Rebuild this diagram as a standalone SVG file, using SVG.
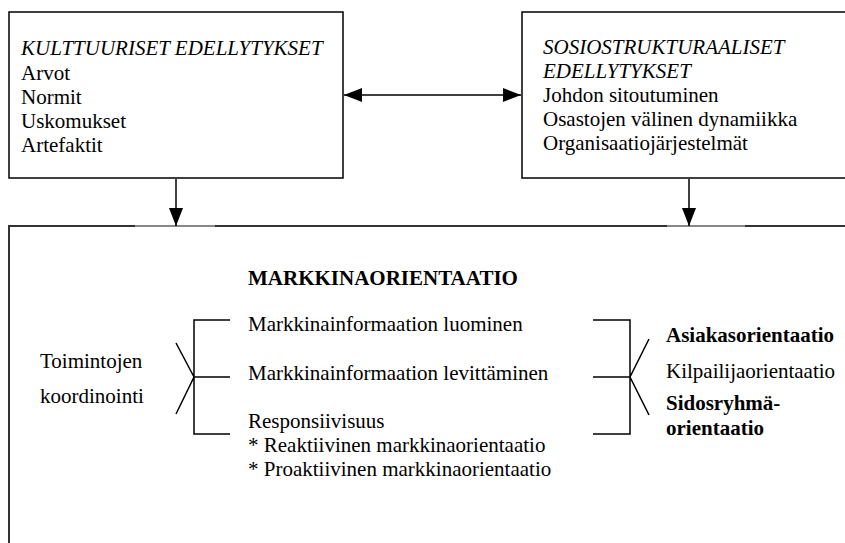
<svg xmlns="http://www.w3.org/2000/svg" width="845" height="543" viewBox="0 0 845 543">
<style>
text{font-family:"Liberation Serif","Times New Roman",serif;font-size:21px;fill:#000}
.it{font-style:italic}
.b{font-weight:bold}
.box{fill:#fff;stroke:#000;stroke-width:1.5}
.big{fill:#fff;stroke:#333;stroke-width:2}
.ln{stroke:#000;stroke-width:1.5;fill:none}
</style>
<defs>
<marker id="ah" viewBox="0 0 18 14" refX="18" refY="7" markerWidth="18" markerHeight="14" markerUnits="userSpaceOnUse" orient="auto-start-reverse">
<path d="M0,0 L18,7 L0,14 Z" fill="#000"/>
</marker>
</defs>
<g id="big-box">
<rect class="big" x="9" y="226" width="850" height="330"/>
<line x1="135" y1="226" x2="215" y2="226" stroke="#888" stroke-width="2"/>
<line x1="667" y1="226" x2="745" y2="226" stroke="#888" stroke-width="2"/>
<text class="b" x="248" y="285">MARKKINAORIENTAATIO</text>
<text x="248" y="331">Markkinainformaation luominen</text>
<text x="248" y="380">Markkinainformaation levittäminen</text>
<text x="248" y="428">Responsiivisuus</text>
<text x="248" y="452">* Reaktiivinen markkinaorientaatio</text>
<text x="248" y="476">* Proaktiivinen markkinaorientaatio</text>
<text x="40" y="368">Toimintojen</text>
<text x="40" y="403">koordinointi</text>
<text class="b" x="666" y="342">Asiakasorientaatio</text>
<text x="666" y="378">Kilpailijaorientaatio</text>
<text class="b" x="666" y="410">Sidosryhmä-</text>
<text class="b" x="666" y="435">orientaatio</text>
<path class="ln" d="M230,320 H194 V434 H230 M194,377 H230 M176,343 L194,377 L176,414"/>
<path class="ln" d="M593,320 H630 V434 H593 M593,377 H630 M649,339 L630,377 L649,415"/>
</g>
<g id="kulttuuriset">
<rect class="box" x="9" y="12" width="334" height="166"/>
<text class="it" x="21" y="55">KULTTUURISET EDELLYTYKSET</text>
<text x="21" y="80">Arvot</text>
<text x="21" y="104">Normit</text>
<text x="21" y="128">Uskomukset</text>
<text x="21" y="152">Artefaktit</text>
</g>
<g id="sosiostrukturaaliset">
<rect class="box" x="522" y="12" width="340" height="166"/>
<text class="it" x="543" y="54">SOSIOSTRUKTURAALISET</text>
<text class="it" x="543" y="78">EDELLYTYKSET</text>
<text x="543" y="102">Johdon sitoutuminen</text>
<text x="543" y="126">Osastojen välinen dynamiikka</text>
<text x="543" y="150">Organisaatiojärjestelmät</text>
</g>
<g id="connectors">
<line class="ln" x1="344" y1="95" x2="521" y2="95" marker-start="url(#ah)" marker-end="url(#ah)"/>
<line class="ln" x1="176" y1="179" x2="176" y2="226" marker-end="url(#ah)"/>
<line class="ln" x1="689" y1="179" x2="689" y2="226" marker-end="url(#ah)"/>
</g>
</svg>
